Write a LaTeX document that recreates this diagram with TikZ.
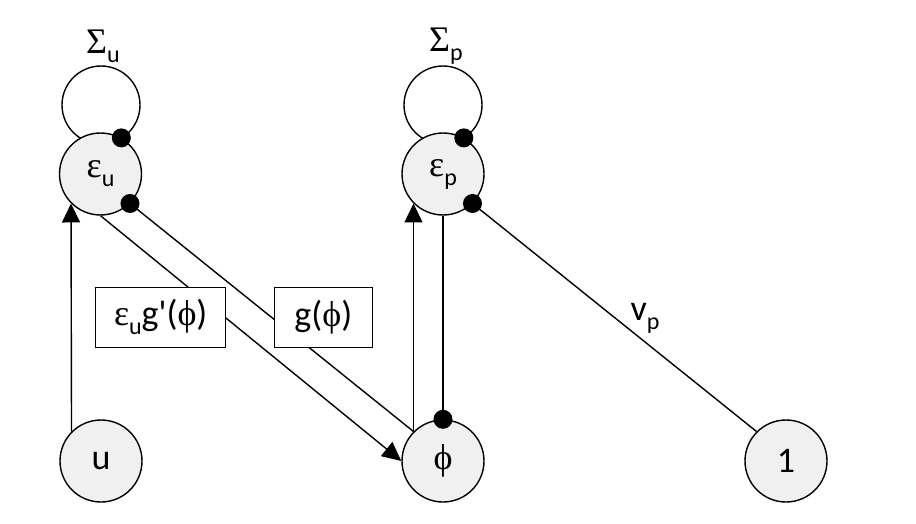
\documentclass[tikz,border=0pt]{standalone}
\usepackage{fontspec}
\setmainfont{Carlito}
\newfontfamily\gkfont{Liberation Serif}
\newfontfamily\qfont{Carlito}
\usetikzlibrary{arrows.meta}
\newcommand\gk[1]{{\gkfont #1}}
\newcommand\sbs[1]{\raisebox{-0.25em}{\fontsize{24}{24}\selectfont #1}}
\begin{document}
\begin{tikzpicture}[x=1pt,y=-1pt, line width=1.4pt,
  var/.style={circle, draw, fill=black!6, minimum size=82pt, inner sep=0pt, font=\fontsize{36}{40}\selectfont},
  lab/.style={draw, fill=white, minimum width=#1, minimum height=60pt, inner sep=0pt, font=\fontsize{36}{40}\selectfont},
  txt/.style={inner sep=0pt, font=\fontsize{36}{40}\selectfont},
  dot/.style={circle, fill=black, minimum size=19pt, inner sep=0pt},
  arr/.style={-{Triangle[length=19pt,width=18pt]}}
]
\useasboundingbox (0,0) rectangle (916,524);
% self loops
\coordinate (lu) at (101,105);
\coordinate (lp) at (443,105);
\draw (lu) circle[radius=39];
\draw (lp) circle[radius=39];
% variables
\node[var] (eu) at (100.5,174) {\gk{ε}\sbs{u}};
\node[var] (ep) at (443,174) {\gk{ε}\sbs{p}};
\node[var] (u) at (101,461) {u};
\node[var] (phi) at (443,461) {\gk{ϕ}};
\node[var] (one) at (786,461) {1};
% connectors
\draw[arr] (u.135) -- (eu.-135);
\draw[arr] (eu.south) -- (phi.west);
\draw (eu.-45) -- (phi.135);
\draw[arr] (phi.135) -- (ep.-135);
\draw (ep.south) -- (phi.north);
\draw (ep.-45) -- (one.135);
% labels
\node[lab=130pt] (l1) at (160.7,317.3) {\gk{ε}\sbs{u}g{\qfont'}(\gk{ϕ})};
\node[lab=98pt] (l2) at (323.3,317.3) {g(\gk{ϕ})};
\node[txt] (su) at (103,46) {\gk{Σ}\sbs{u}};
\node[txt] (sp) at (446,46) {\gk{Σ}\sbs{p}};
\node[txt] (vp) at (645,318) {v\sbs{p}};
% dots
\node[dot] (d1) at (eu.60) {};
\node[dot] (d2) at (eu.-45) {};
\node[dot] (d3) at (ep.60) {};
\node[dot] (d4) at (ep.-45) {};
\node[dot] (d5) at (phi.north) {};
\end{tikzpicture}
\end{document}
